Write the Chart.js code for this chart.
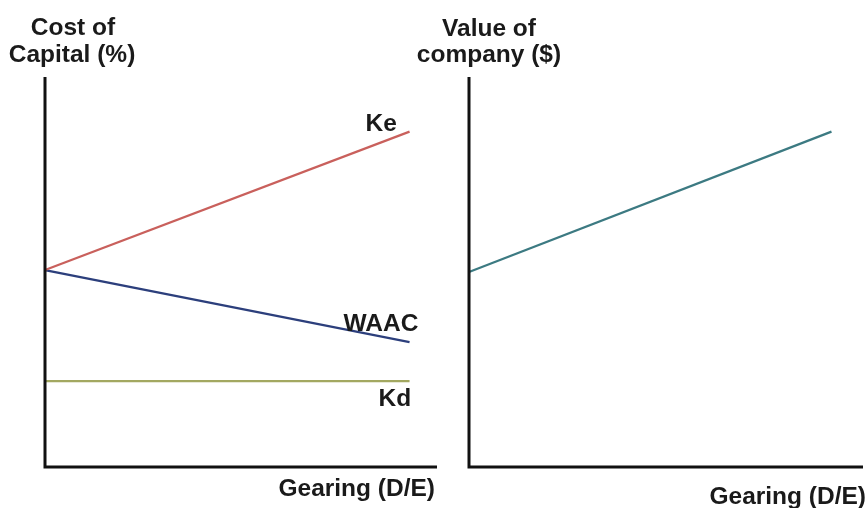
<!DOCTYPE html>
<html>
<head>
<meta charset="utf-8">
<script src="https://cdn.jsdelivr.net/npm/chart.js@4.4.1/dist/chart.umd.min.js"></script>
<style>
  html, body { margin: 0; padding: 0; background: #fff; }
  #wrap { position: relative; width: 867px; height: 508px; overflow: hidden; }
  .panel { position: absolute; top: 0; height: 508px; }
  #left { left: 0; width: 440px; }
  #right { left: 400px; width: 467px; }
</style>
</head>
<body>
<div id="wrap">
  <div class="panel" id="left"><canvas id="costChart" width="440" height="508"></canvas></div>
  <div class="panel" id="right"><canvas id="valueChart" width="467" height="508"></canvas></div>
</div>
<script>
// Gearing (D/E) on x, arbitrary 0-10 scale on y (no ticks in the original)
const gearingLeft = [0, 9.3];
const keValues = [5.05, 8.6];
const waacValues = [5.05, 3.2];
const kdValues = [2.2, 2.2];

const gearingRight = [0, 9.2];
const companyValues = [5.0, 8.6];

const seriesNames = ['Ke', 'WAAC', 'Kd'];
const FONT = 'bold 24.5px "Liberation Sans", Arial, sans-serif';

function pts(xs, ys) {
    return xs.map((x, i) => ({ x: x, y: ys[i] }));
}

// axis lines + free text (titles, series labels)
const sketchText = {
    id: 'sketchText',
    afterDraw(chart, args, opts) {
        const ctx = chart.ctx;
        const xs = chart.scales.x, ys = chart.scales.y;
        ctx.save();
        ctx.strokeStyle = '#111';
        ctx.lineWidth = 3;
        ctx.beginPath();
        ctx.moveTo(xs.getPixelForValue(0), ys.getPixelForValue(ys.max));
        ctx.lineTo(xs.getPixelForValue(0), ys.getPixelForValue(0));
        ctx.lineTo(xs.getPixelForValue(xs.max), ys.getPixelForValue(0));
        ctx.stroke();

        ctx.font = FONT;
        ctx.fillStyle = '#1a1a1a';
        ctx.textBaseline = 'alphabetic';
        (opts.texts || []).forEach(t => {
            ctx.textAlign = t.align || 'center';
            ctx.fillText(t.text, t.x, t.y);
        });

        // series names next to line ends
        (opts.seriesOffsets || []).forEach((off, i) => {
            const meta = chart.getDatasetMeta(i);
            const last = meta.data[meta.data.length - 1];
            ctx.textAlign = 'left';
            ctx.fillText(chart.data.datasets[i].label, last.x + off[0], last.y + off[1]);
        });
        ctx.restore();
    }
};

function baseOptions(padding, plugin) {
    return {
        responsive: false,
        animation: false,
        layout: { padding: padding },
        scales: {
            x: { type: 'linear', min: 0, max: 10, display: false },
            y: { type: 'linear', min: 0, max: 10, display: false }
        },
        elements: { point: { radius: 0 }, line: { borderWidth: 2.2, tension: 0 } },
        plugins: { legend: { display: false }, tooltip: { enabled: false }, sketchText: plugin }
    };
}

new Chart(document.getElementById('costChart'), {
    type: 'line',
    data: {
        datasets: [
            { label: seriesNames[0], data: pts(gearingLeft, keValues), borderColor: '#c9605c', clip: false },
            { label: seriesNames[1], data: pts(gearingLeft, waacValues), borderColor: '#2c3f7c', clip: false },
            { label: seriesNames[2], data: pts(gearingLeft, kdValues), borderColor: '#a3a861', clip: false }
        ]
    },
    options: baseOptions({ left: 45, right: 3, top: 77, bottom: 41 }, {
        texts: [
            { text: 'Cost of', x: 73, y: 35 },
            { text: 'Capital (%)', x: 72, y: 62 },
            { text: 'Gearing (D/E)', x: 435, y: 496, align: 'right' }
        ],
        seriesOffsets: [[-44, -1], [-66, -11], [-31, 25]]
    }),
    plugins: [sketchText]
});

new Chart(document.getElementById('valueChart'), {
    type: 'line',
    data: {
        datasets: [
            { label: 'Value of company', data: pts(gearingRight, companyValues), borderColor: '#3c7a82', clip: false }
        ]
    },
    options: baseOptions({ left: 69, right: 4, top: 77, bottom: 41 }, {
        texts: [
            { text: 'Value of', x: 89, y: 36 },
            { text: 'company ($)', x: 89, y: 62 },
            { text: 'Gearing (D/E)', x: 466, y: 504, align: 'right' }
        ],
        seriesOffsets: []
    }),
    plugins: [sketchText]
});
</script>
</body>
</html>
